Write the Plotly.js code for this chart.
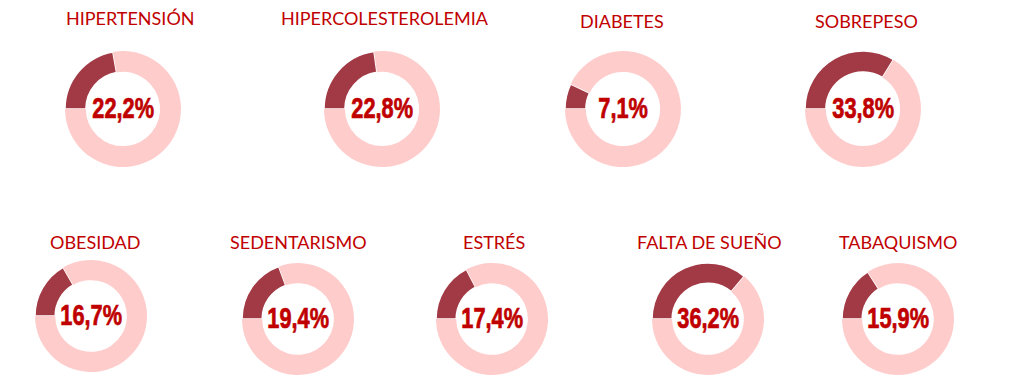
<!DOCTYPE html>
<html>
<head>
<meta charset="utf-8">
<script src="https://cdn.plot.ly/plotly-3.0.1.min.js"></script>
<style>
html,body{margin:0;padding:0;background:#fff;}
#chart{width:1024px;height:378px;}
</style>
</head>
<body>
<div id="chart"></div>
<script>
// Data
const categories = ["HIPERTENSIÓN", "HIPERCOLESTEROLEMIA", "DIABETES", "SOBREPESO",
                    "OBESIDAD", "SEDENTARISMO", "ESTRÉS", "FALTA DE SUEÑO", "TABAQUISMO"];
const percentages = [22.2, 22.8, 7.1, 33.8, 16.7, 19.4, 17.4, 36.2, 15.9];

// Layout placement (pixel centres and radii of each donut, title centres)
const W = 1024, H = 378;
const centersX = [123, 382, 623, 863, 91, 298, 492, 708, 898];
const centersY = [109, 109, 109, 109, 316, 319, 319, 319, 319];
const radii    = [58, 58, 58, 58, 56, 56, 56, 56, 56];
const titleX   = [130, 385, 622, 866, 95, 298, 494, 709, 898];
const titleY   = [18, 18, 21, 21, 242, 242, 242, 242, 242];

const darkColor = '#A23A45';
const lightColor = '#FFCCCC';
const textColor = '#C00000';

const traces = [];
const annotations = [];
categories.forEach((cat, i) => {
  const v = percentages[i];
  const cx = centersX[i], cy = centersY[i], r = radii[i];
  traces.push({
    type: 'pie',
    values: [v, 100 - v],
    labels: [cat, 'resto'],
    sort: false,
    direction: 'clockwise',
    rotation: 270,
    hole: 0.64,
    textinfo: 'none',
    hoverinfo: 'skip',
    showlegend: false,
    marker: {
      colors: [darkColor, lightColor],
      line: {color: ['#ffffff', '#ffffff'], width: [1.5, 0]}
    },
    domain: {
      x: [(cx - r) / W, (cx + r) / W],
      y: [(H - cy - r) / H, (H - cy + r) / H]
    }
  });
  annotations.push({
    text: v.toFixed(1).replace('.', ',') + '%',
    x: cx / W, y: (H - cy + 1) / H, xref: 'paper', yref: 'paper',
    xanchor: 'center', yanchor: 'middle', showarrow: false,
    name: 'pct',
    font: {family: '"Liberation Sans", Arial, sans-serif', size: 29, color: textColor, weight: 'bold'}
  });
  annotations.push({
    text: cat,
    x: titleX[i] / W, y: (H - titleY[i]) / H, xref: 'paper', yref: 'paper',
    xanchor: 'center', yanchor: 'middle', showarrow: false,
    name: 'title',
    font: {family: 'Lato, "Open Sans", sans-serif', size: 18, color: textColor}
  });
});

function condense() {
  document.querySelectorAll('.annotation-text').forEach(t => {
    if (/%$/.test(t.textContent)) {
      t.style.transformBox = 'fill-box';
      t.style.transformOrigin = 'center';
      t.style.transform = 'scaleX(0.75)';
      t.style.stroke = textColor;
      t.style.strokeWidth = '0.7px';
    }
  });
}

Plotly.newPlot('chart', traces, {
  width: W, height: H,
  margin: {l: 0, r: 0, t: 0, b: 0},
  paper_bgcolor: '#ffffff',
  annotations: annotations
}, {staticPlot: true, displayModeBar: false}).then(condense);
</script>
</body>
</html>
